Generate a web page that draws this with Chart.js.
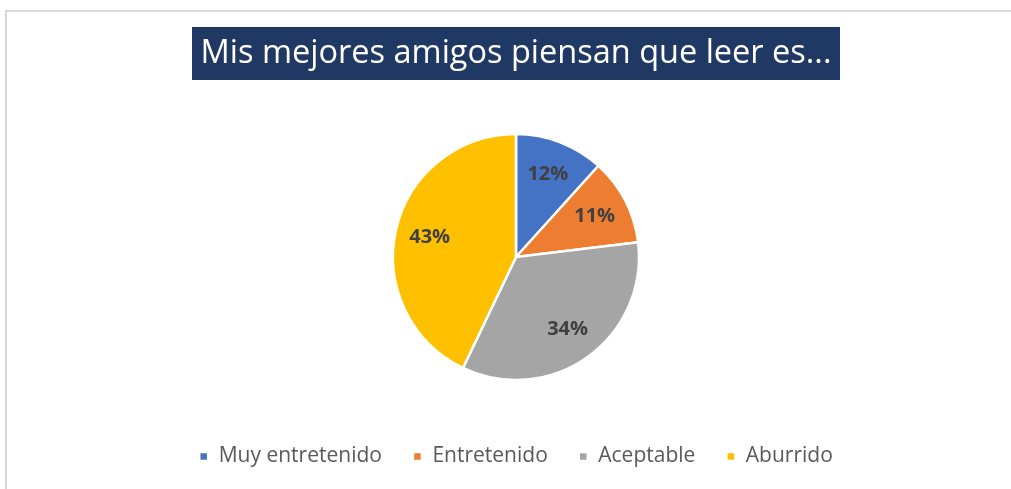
<!DOCTYPE html>
<html>
<head>
<meta charset="utf-8">
<script src="https://cdn.jsdelivr.net/npm/chart.js@4.4.1/dist/chart.umd.min.js"></script>
<style>
  html, body { margin: 0; padding: 0; background: #ffffff; overflow: hidden; }
  #wrap { position: relative; width: 1011px; height: 489px; }
  #frame { position: absolute; left: 5px; top: 10px; width: 1010px; height: 490px;
           border-top: 2px solid #d9d9d9; border-left: 2px solid #d9d9d9; box-sizing: border-box; pointer-events: none; }
  canvas { position: absolute; left: 0; top: 0; }
</style>
</head>
<body>
<div id="wrap">
  <canvas id="c" width="1011" height="489"></canvas>
  <div id="frame"></div>
</div>
<script>
const titleText = 'Mis mejores amigos piensan que leer es...';
const categories = ['Muy entretenido', 'Entretenido', 'Aceptable', 'Aburrido'];
const values = [11.7, 11.4, 34.0, 42.9];
const colors = ['#4472C4', '#ED7D31', '#A5A5A5', '#FFC000'];

const FONT = "'Open Sans', 'Liberation Sans', sans-serif";

const titleBoxPlugin = {
  id: 'titleBox',
  beforeDraw(chart) {
    const ctx = chart.ctx;
    const cx = (chart.chartArea.left + chart.chartArea.right) / 2;
    ctx.save();
    ctx.fillStyle = '#203864';
    const w = 648, h = 53;
    ctx.fillRect(cx - w / 2, 27, w, h);
    ctx.restore();
  }
};

const dataLabelPlugin = {
  id: 'pctLabels',
  afterDatasetsDraw(chart) {
    const ctx = chart.ctx;
    const meta = chart.getDatasetMeta(0);
    const data = chart.data.datasets[0].data;
    const total = data.reduce((a, b) => a + b, 0);
    ctx.save();
    ctx.font = "bold 20px " + FONT;
    ctx.fillStyle = '#404040';
    ctx.textAlign = 'center';
    ctx.textBaseline = 'middle';
    meta.data.forEach((arc, i) => {
      const p = arc.getProps(['x', 'y', 'startAngle', 'endAngle', 'outerRadius'], true);
      const mid = (p.startAngle + p.endAngle) / 2;
      const r = p.outerRadius * 0.72;
      const x = p.x + Math.cos(mid) * r;
      const y = p.y + Math.sin(mid) * r;
      ctx.fillText(Math.round(data[i] / total * 100) + '%', x, y);
    });
    ctx.restore();
  }
};

new Chart(document.getElementById('c'), {
  type: 'pie',
  data: {
    labels: categories,
    datasets: [{
      data: values,
      backgroundColor: colors,
      borderColor: '#ffffff',
      borderWidth: 2.5,
      radius: 123
    }]
  },
  options: {
    responsive: false,
    animation: false,
    layout: { padding: { left: 21, right: 0, top: 0, bottom: 12 } },
    plugins: {
      title: {
        display: true,
        text: titleText,
        color: '#ffffff',
        font: { family: FONT, size: 32.5, weight: 'normal', lineHeight: 1.2 },
        padding: { top: 34, bottom: 26 }
      },
      legend: {
        display: true,
        position: 'bottom',
        labels: {
          boxWidth: 9,
          boxHeight: 9,
          padding: 31,
          color: '#595959',
          font: { family: FONT, size: 21 },
          useBorderRadius: false
        }
      },
      tooltip: { enabled: false }
    }
  },
  plugins: [titleBoxPlugin, dataLabelPlugin]
});
</script>
</body>
</html>
